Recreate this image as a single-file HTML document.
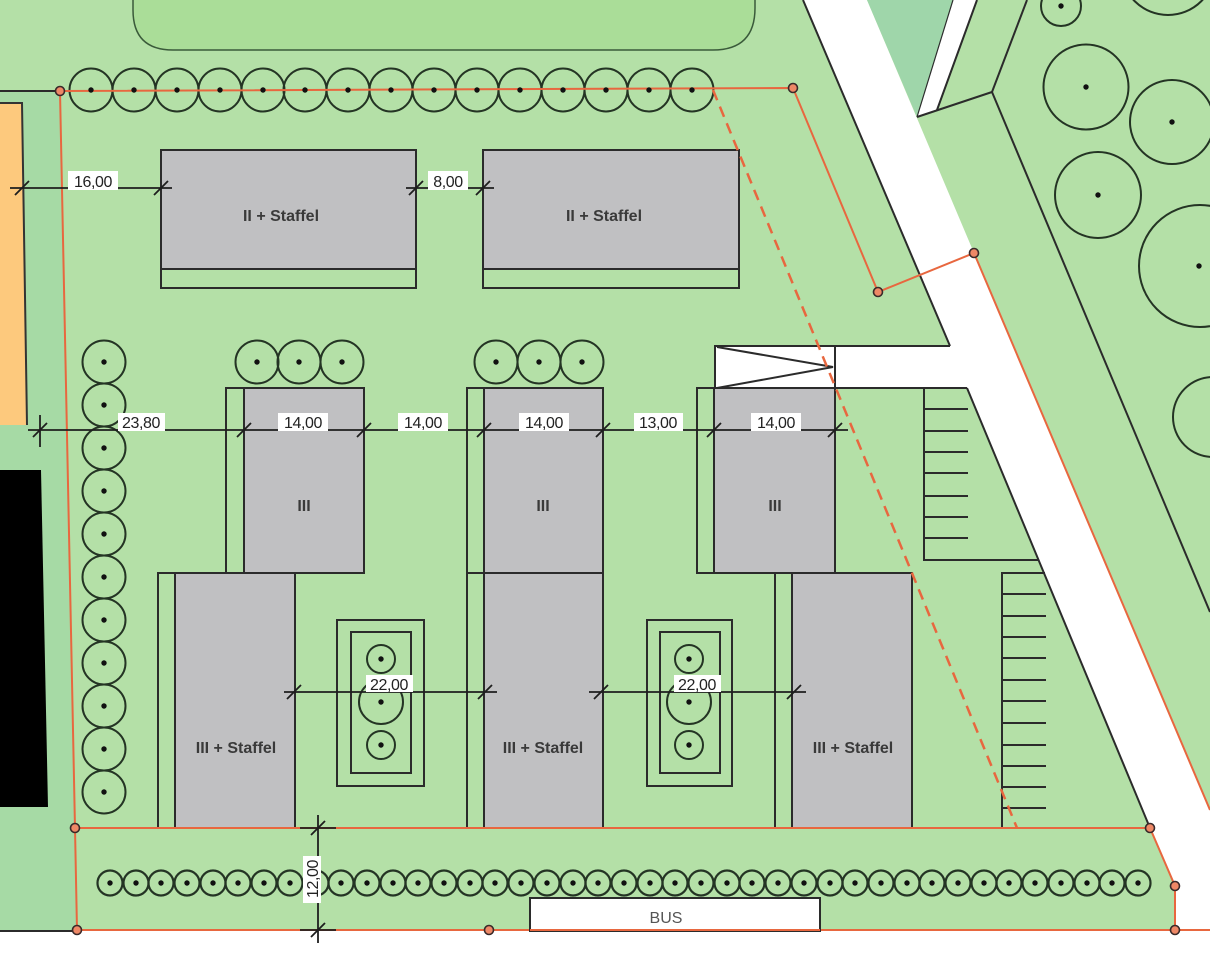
<!DOCTYPE html>
<html><head><meta charset="utf-8">
<style>
html,body{margin:0;padding:0;background:#fff;}
svg{display:block;}
text{font-family:"Liberation Sans",Arial,sans-serif;}
.d{font-size:16px;fill:#222;letter-spacing:-0.4px;}
.b{font-size:16px;font-weight:bold;fill:#3a3a3a;}
</style></head><body>
<svg width="1210" height="956" viewBox="0 0 1210 956" xmlns="http://www.w3.org/2000/svg">
<defs>
<g id="T"><circle r="21.5" fill="none" stroke="#243424" stroke-width="2"/></g>
<g id="S"><circle r="12.5" fill="none" stroke="#243424" stroke-width="2.2"/><circle r="2.7" fill="#111"/></g>
<circle id="D" r="2.7" fill="#111"/>
<circle id="N" r="4.5" fill="#ee8866" stroke="#3a2a2a" stroke-width="1.6"/>
</defs>

<rect width="1210" height="956" fill="#b4e0a7"/>
<rect x="0" y="931" width="1210" height="25" fill="#fff"/>

<!-- left strip -->
<polygon points="0,91 60,91 77,931 0,931" fill="#a6daa5"/>
<polygon points="0,103 22,103 27,425 0,425" fill="#fdc97d"/>
<polyline points="0,103 22,103 27,425" fill="none" stroke="#333" stroke-width="2"/>
<polygon points="0,470 41,470 48,807 0,807" fill="#000"/>

<!-- top rounded area -->
<path d="M133,-10 L133,10 Q133,50 173,50 L713,50 Q755,50 755,8 L755,-10 Z" fill="#aadd98" stroke="#3a5a3a" stroke-width="1.5"/>

<!-- road -->
<polygon points="803,0 867,0 974,253 1210,808 1210,931 1175,931 1175,886 1150,828 967,388 715,388 715,346 950,346" fill="#fff"/>
<polygon points="867,0 953,0 917,117" fill="#9fd6aa"/>
<polygon points="953,0 977,0 937,110 917,117" fill="#fff"/>

<g stroke="#2b2b2b" stroke-width="2" fill="none">
<line x1="803" y1="0" x2="950" y2="346"/>
<line x1="715" y1="346" x2="950" y2="346"/>
<line x1="715" y1="388" x2="967" y2="388"/>
<line x1="967" y1="388" x2="1150" y2="828"/>
<line x1="953" y1="0" x2="917" y2="117" stroke-width="1.2"/>
<line x1="977" y1="0" x2="937" y2="110"/>
<line x1="917" y1="117" x2="992" y2="92"/>
<line x1="992" y1="92" x2="1027" y2="0"/>
<line x1="992" y1="92" x2="1210" y2="612"/>
<line x1="0" y1="91" x2="60" y2="91"/>
<line x1="0" y1="931" x2="77" y2="931"/>
<!-- driveway box -->
<rect x="715" y="346" width="120" height="42"/>
<polyline points="717,347 833,367 717,388"/>
<!-- parking 1 -->
<polyline points="924,388 924,560 1039,560"/>
<line x1="924" y1="409" x2="968" y2="409"/>
<line x1="924" y1="431" x2="968" y2="431"/>
<line x1="924" y1="452" x2="968" y2="452"/>
<line x1="924" y1="473" x2="968" y2="473"/>
<line x1="924" y1="496" x2="968" y2="496"/>
<line x1="924" y1="517" x2="968" y2="517"/>
<line x1="924" y1="538" x2="968" y2="538"/>
<!-- parking 2 -->
<polyline points="1045,573 1002,573 1002,828"/>
<line x1="1002" y1="594" x2="1046" y2="594"/>
<line x1="1002" y1="616" x2="1046" y2="616"/>
<line x1="1002" y1="637" x2="1046" y2="637"/>
<line x1="1002" y1="658" x2="1046" y2="658"/>
<line x1="1002" y1="680" x2="1046" y2="680"/>
<line x1="1002" y1="701" x2="1046" y2="701"/>
<line x1="1002" y1="723" x2="1046" y2="723"/>
<line x1="1002" y1="745" x2="1046" y2="745"/>
<line x1="1002" y1="766" x2="1046" y2="766"/>
<line x1="1002" y1="787" x2="1046" y2="787"/>
<line x1="1002" y1="808" x2="1046" y2="808"/>
</g>

<!-- right trees -->
<g fill="none" stroke="#243424" stroke-width="2">
<circle cx="1061" cy="6" r="20"/>
<circle cx="1168" cy="-32" r="47"/>
<circle cx="1086" cy="87" r="42.5"/>
<circle cx="1172" cy="122" r="42"/>
<circle cx="1098" cy="195" r="43"/>
<circle cx="1200" cy="266" r="61"/>
<circle cx="1213" cy="417" r="40"/>
</g>
<g fill="#111">
<circle cx="1061" cy="6" r="2.7"/>
<circle cx="1086" cy="87" r="2.7"/>
<circle cx="1172" cy="122" r="2.7"/>
<circle cx="1098" cy="195" r="2.7"/>
<circle cx="1199" cy="266" r="2.7"/>
</g>

<!-- buildings -->
<g stroke="#2b2b2b" stroke-width="2">
<rect x="161" y="150" width="255" height="138" fill="none"/>
<rect x="161" y="150" width="255" height="119" fill="#c0c0c2"/>
<rect x="483" y="150" width="256" height="138" fill="none"/>
<rect x="483" y="150" width="256" height="119" fill="#c0c0c2"/>

<rect x="226" y="388" width="138" height="185" fill="none"/>
<rect x="244" y="388" width="120" height="185" fill="#c0c0c2"/>
<rect x="467" y="388" width="136" height="185" fill="none"/>
<rect x="484" y="388" width="119" height="185" fill="#c0c0c2"/>
<rect x="697" y="388" width="138" height="185" fill="none"/>
<rect x="714" y="388" width="121" height="185" fill="#c0c0c2"/>

<rect x="158" y="573" width="137" height="255" fill="none"/>
<rect x="175" y="573" width="120" height="255" fill="#c0c0c2"/>
<rect x="467" y="573" width="136" height="255" fill="none"/>
<rect x="484" y="573" width="119" height="255" fill="#c0c0c2"/>
<rect x="775" y="573" width="137" height="255" fill="none"/>
<rect x="792" y="573" width="120" height="255" fill="#c0c0c2"/>

<!-- planters -->
<rect x="337" y="620" width="87" height="166" fill="none"/>
<rect x="351" y="632" width="60" height="141" fill="none"/>
<rect x="647" y="620" width="85" height="166" fill="none"/>
<rect x="660" y="632" width="60" height="141" fill="none"/>
</g>
<g fill="none" stroke="#243424" stroke-width="2">
<circle cx="381" cy="659" r="14"/><circle cx="381" cy="702" r="22"/><circle cx="381" cy="745" r="14"/>
<circle cx="689" cy="659" r="14"/><circle cx="689" cy="702" r="22"/><circle cx="689" cy="745" r="14"/>
</g>
<g fill="#111">
<circle cx="381" cy="659" r="2.7"/><circle cx="381" cy="702" r="2.7"/><circle cx="381" cy="745" r="2.7"/>
<circle cx="689" cy="659" r="2.7"/><circle cx="689" cy="702" r="2.7"/><circle cx="689" cy="745" r="2.7"/>
</g>

<!-- building labels -->
<g class="b" text-anchor="middle">
<text x="281" y="221">II + Staffel</text>
<text x="604" y="221">II + Staffel</text>
<text x="304" y="511">III</text>
<text x="543" y="511">III</text>
<text x="775" y="511">III</text>
<text x="236" y="753">III + Staffel</text>
<text x="543" y="753">III + Staffel</text>
<text x="853" y="753">III + Staffel</text>
</g>

<!-- top tree row circles -->
<g>
<use href="#T" x="91" y="90"/><use href="#T" x="134" y="90"/><use href="#T" x="177" y="90"/>
<use href="#T" x="220" y="90"/><use href="#T" x="263" y="90"/><use href="#T" x="305" y="90"/>
<use href="#T" x="348" y="90"/><use href="#T" x="391" y="90"/><use href="#T" x="434" y="90"/>
<use href="#T" x="477" y="90"/><use href="#T" x="520" y="90"/><use href="#T" x="563" y="90"/>
<use href="#T" x="606" y="90"/><use href="#T" x="649" y="90"/><use href="#T" x="692" y="90"/>
</g>
<!-- left column trees -->
<g>
<use href="#T" x="104" y="362"/><use href="#T" x="104" y="405"/><use href="#T" x="104" y="448"/>
<use href="#T" x="104" y="491"/><use href="#T" x="104" y="534"/><use href="#T" x="104" y="577"/>
<use href="#T" x="104" y="620"/><use href="#T" x="104" y="663"/><use href="#T" x="104" y="706"/>
<use href="#T" x="104" y="749"/><use href="#T" x="104" y="792"/>
<use href="#T" x="257" y="362"/><use href="#T" x="299" y="362"/><use href="#T" x="342" y="362"/>
<use href="#T" x="496" y="362"/><use href="#T" x="539" y="362"/><use href="#T" x="582" y="362"/>
</g>

<!-- red boundary lines -->
<g stroke="#e8673f" stroke-width="2" fill="none">
<polyline points="60,91 793,88 878,292 974,253 1210,810"/>
<polyline points="60,91 75,828 77,930"/>
<line x1="75" y1="828" x2="1150" y2="828"/>
<polyline points="1150,828 1175,886 1175,930"/>
<line x1="77" y1="930" x2="1210" y2="930"/>
<line x1="713" y1="90" x2="1017" y2="828" stroke-dasharray="11,7" stroke-width="2.5"/>
</g>

<!-- tree dots -->
<g>
<use href="#D" x="91" y="90"/><use href="#D" x="134" y="90"/><use href="#D" x="177" y="90"/>
<use href="#D" x="220" y="90"/><use href="#D" x="263" y="90"/><use href="#D" x="305" y="90"/>
<use href="#D" x="348" y="90"/><use href="#D" x="391" y="90"/><use href="#D" x="434" y="90"/>
<use href="#D" x="477" y="90"/><use href="#D" x="520" y="90"/><use href="#D" x="563" y="90"/>
<use href="#D" x="606" y="90"/><use href="#D" x="649" y="90"/><use href="#D" x="692" y="90"/>
<use href="#D" x="104" y="362"/><use href="#D" x="104" y="405"/><use href="#D" x="104" y="448"/>
<use href="#D" x="104" y="491"/><use href="#D" x="104" y="534"/><use href="#D" x="104" y="577"/>
<use href="#D" x="104" y="620"/><use href="#D" x="104" y="663"/><use href="#D" x="104" y="706"/>
<use href="#D" x="104" y="749"/><use href="#D" x="104" y="792"/>
<use href="#D" x="257" y="362"/><use href="#D" x="299" y="362"/><use href="#D" x="342" y="362"/>
<use href="#D" x="496" y="362"/><use href="#D" x="539" y="362"/><use href="#D" x="582" y="362"/>
</g>

<!-- bus -->
<path d="M530,931 L530,898 L820,898 L820,931 Z" fill="#fff" stroke="#2b2b2b" stroke-width="2"/>
<line x1="530" y1="930" x2="820" y2="930" stroke="#e8673f" stroke-width="2"/>
<text x="666" y="923" text-anchor="middle" style="font-size:16px;fill:#555;">BUS</text>

<!-- bottom tree row -->
<g>
<use href="#S" x="110" y="883"/><use href="#S" x="136" y="883"/><use href="#S" x="161" y="883"/>
<use href="#S" x="187" y="883"/><use href="#S" x="213" y="883"/><use href="#S" x="238" y="883"/>
<use href="#S" x="264" y="883"/><use href="#S" x="290" y="883"/><use href="#S" x="316" y="883"/>
<use href="#S" x="341" y="883"/><use href="#S" x="367" y="883"/><use href="#S" x="393" y="883"/>
<use href="#S" x="418" y="883"/><use href="#S" x="444" y="883"/><use href="#S" x="470" y="883"/>
<use href="#S" x="495" y="883"/><use href="#S" x="521" y="883"/><use href="#S" x="547" y="883"/>
<use href="#S" x="573" y="883"/><use href="#S" x="598" y="883"/><use href="#S" x="624" y="883"/>
<use href="#S" x="650" y="883"/><use href="#S" x="675" y="883"/><use href="#S" x="701" y="883"/>
<use href="#S" x="727" y="883"/><use href="#S" x="752" y="883"/><use href="#S" x="778" y="883"/>
<use href="#S" x="804" y="883"/><use href="#S" x="830" y="883"/><use href="#S" x="855" y="883"/>
<use href="#S" x="881" y="883"/><use href="#S" x="907" y="883"/><use href="#S" x="932" y="883"/>
<use href="#S" x="958" y="883"/><use href="#S" x="984" y="883"/><use href="#S" x="1009" y="883"/>
<use href="#S" x="1035" y="883"/><use href="#S" x="1061" y="883"/><use href="#S" x="1087" y="883"/>
<use href="#S" x="1112" y="883"/><use href="#S" x="1138" y="883"/>
</g>

<!-- dimension lines -->
<g stroke="#1e1e1e" stroke-width="1.8" fill="none">
<line x1="10" y1="188" x2="172" y2="188"/>
<line x1="406" y1="188" x2="494" y2="188"/>
<line x1="28" y1="430" x2="848" y2="430"/>
<line x1="40" y1="415" x2="40" y2="447"/>
<line x1="284" y1="692" x2="497" y2="692"/>
<line x1="589" y1="692" x2="806" y2="692"/>
<line x1="318" y1="815" x2="318" y2="943"/>
<line x1="300" y1="828" x2="336" y2="828"/>
<line x1="300" y1="930" x2="336" y2="930"/>
<path d="M15,195 L29,181 M154,195 L168,181 M409,195 L423,181 M476,195 L490,181
M33,437 L47,423 M237,437 L251,423 M357,437 L371,423 M477,437 L491,423 M596,437 L610,423 M707,437 L721,423 M828,437 L842,423
M287,699 L301,685 M478,699 L492,685 M594,699 L608,685 M787,699 L801,685
M311,835 L325,821 M311,937 L325,923"/>
</g>

<!-- dimension labels -->
<g fill="#fff">
<rect x="68" y="171" width="50" height="19"/>
<rect x="428" y="171" width="40" height="19"/>
<rect x="118" y="413" width="47" height="18"/>
<rect x="278" y="413" width="50" height="18"/>
<rect x="398" y="413" width="50" height="18"/>
<rect x="519" y="413" width="50" height="18"/>
<rect x="634" y="413" width="49" height="18"/>
<rect x="751" y="413" width="50" height="18"/>
<rect x="366" y="675" width="47" height="17"/>
<rect x="674" y="675" width="47" height="17"/>
<rect x="303" y="856" width="18" height="47"/>
</g>
<g class="d" text-anchor="middle">
<text x="93" y="187">16,00</text>
<text x="448" y="187">8,00</text>
<text x="141" y="428">23,80</text>
<text x="303" y="428">14,00</text>
<text x="423" y="428">14,00</text>
<text x="544" y="428">14,00</text>
<text x="658" y="428">13,00</text>
<text x="776" y="428">14,00</text>
<text x="389" y="690">22,00</text>
<text x="697" y="690">22,00</text>
<text transform="translate(318,879) rotate(-90)">12,00</text>
</g>

<!-- nodes -->
<g>
<use href="#N" x="60" y="91"/><use href="#N" x="793" y="88"/><use href="#N" x="878" y="292"/>
<use href="#N" x="974" y="253"/><use href="#N" x="75" y="828"/><use href="#N" x="77" y="930"/>
<use href="#N" x="489" y="930"/><use href="#N" x="1150" y="828"/><use href="#N" x="1175" y="886"/>
<use href="#N" x="1175" y="930"/>
</g>
</svg>
</body></html>
